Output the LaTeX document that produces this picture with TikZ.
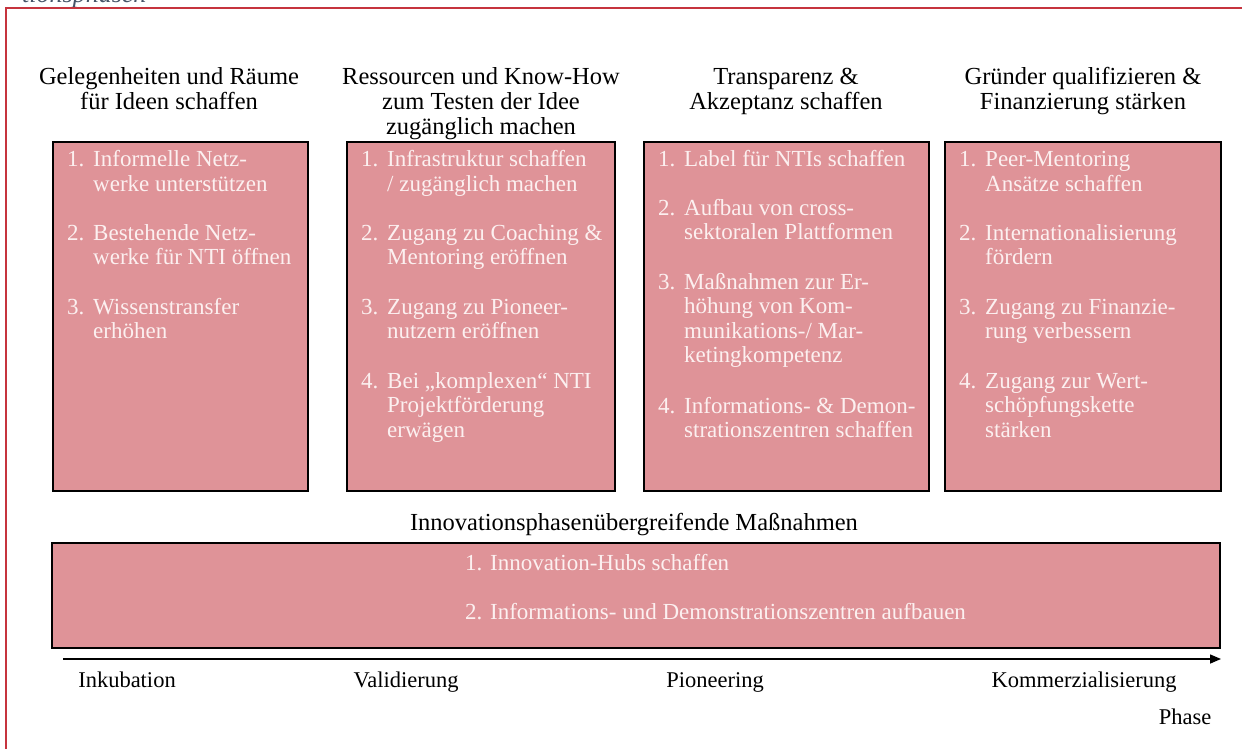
\documentclass[tikz,border=0pt]{standalone}
\usepackage{fontspec}
\setmainfont{Liberation Serif}
\usetikzlibrary{arrows.meta}
\definecolor{boxpink}{RGB}{223,147,152}
\definecolor{itemwhite}{RGB}{252,240,240}
\definecolor{framered}{RGB}{198,52,62}
\definecolor{slate}{RGB}{70,84,104}
\tikzset{
  box/.style={draw=black, line width=1.5pt, fill=boxpink, inner sep=0pt, outer sep=0pt, anchor=north west},
  itemtxt/.style={font=\fontsize{23}{24.5}\selectfont, text=itemwhite, inner sep=0pt, anchor=base west},
  headtxt/.style={font=\fontsize{24.5}{25}\selectfont, text=black, inner sep=0pt, anchor=base},
  axtxt/.style={font=\fontsize{22.5}{25}\selectfont, text=black, inner sep=0pt, anchor=base},
  axisline/.style={line width=1.5pt, -{Triangle[length=11pt,width=9pt]}},
  frameline/.style={draw=framered, line width=2.5pt},
}
\newcommand\mitem[5]{%
  \node[itemtxt] (#1n) at ({#2+14},#3) {#4.};
  \foreach \t [count=\i from 0] in {#5} \node[itemtxt] (#1l\i) at ({#2+40},{#3+24.5*\i}) {\t};
}
\begin{document}
\begin{tikzpicture}[x=1pt,y=-1pt]
\useasboundingbox (0,0) rectangle (1242,749);
\clip (0,0) rectangle (1242,749);
% cut-off caption and frame
\node[font=\itshape\fontsize{26}{26}\selectfont, text=slate, inner sep=0pt, anchor=base west] (cut) at (22,3) {tionsphasen};
\draw[frameline] (6,760) -- (6,8) -- (1260,8);
% headers
\node[headtxt] (h1a) at (169,85) {Gelegenheiten und Räume};
\node[headtxt] (h1b) at (169,110) {für Ideen schaffen};
\node[headtxt] (h2a) at (481,85) {Ressourcen und Know-How};
\node[headtxt] (h2b) at (481,110) {zum Testen der Idee};
\node[headtxt] (h2c) at (481,135) {zugänglich machen};
\node[headtxt] (h3a) at (786,85) {Transparenz \&};
\node[headtxt] (h3b) at (786,110) {Akzeptanz schaffen};
\node[headtxt] (h4a) at (1083,85) {Gründer qualifizieren \&};
\node[headtxt] (h4b) at (1083,110) {Finanzierung stärken};
% boxes
\node[box, minimum width=255pt, minimum height=349pt] (box1) at (53,142) {};
\node[box, minimum width=268pt, minimum height=349pt] (box2) at (347,142) {};
\node[box, minimum width=285pt, minimum height=349pt] (box3) at (644,142) {};
\node[box, minimum width=276pt, minimum height=349pt] (box4) at (945,142) {};
% box 1
\mitem{a1}{53}{167}{1}{{Informelle Netz-},{werke unterstützen}}
\mitem{a2}{53}{240}{2}{{Bestehende Netz-},{werke für NTI öffnen}}
\mitem{a3}{53}{314}{3}{{Wissenstransfer},{erhöhen}}
% box 2
\mitem{b1}{347}{167}{1}{{Infrastruktur schaffen},{/ zugänglich machen}}
\mitem{b2}{347}{240}{2}{{Zugang zu Coaching \&},{Mentoring eröffnen}}
\mitem{b3}{347}{314}{3}{{Zugang zu Pioneer-},{nutzern eröffnen}}
\mitem{b4}{347}{388}{4}{{Bei „komplexen“ NTI},{Projektförderung},{erwägen}}
% box 3
\mitem{c1}{644}{167}{1}{{Label für NTIs schaffen}}
\mitem{c2}{644}{215}{2}{{Aufbau von cross-},{sektoralen Plattformen}}
\mitem{c3}{644}{289}{3}{{Maßnahmen zur Er-},{höhung von Kom-},{munikations-/ Mar-},{ketingkompetenz}}
\mitem{c4}{644}{413}{4}{{Informations- \& Demon-},{strationszentren schaffen}}
% box 4
\mitem{d1}{945}{167}{1}{{Peer-Mentoring},{Ansätze schaffen}}
\mitem{d2}{945}{240}{2}{{Internationalisierung},{fördern}}
\mitem{d3}{945}{314}{3}{{Zugang zu Finanzie-},{rung verbessern}}
\mitem{d4}{945}{388}{4}{{Zugang zur Wert-},{schöpfungskette},{stärken}}
% cross-phase box
\node[headtxt] (hx) at (634,530) {Innovationsphasenübergreifende Maßnahmen};
\node[box, minimum width=1168pt, minimum height=105pt] (boxx) at (52,543) {};
\node[itemtxt] (x1) at (465,570) {1. Innovation-Hubs schaffen};
\node[itemtxt] (x2) at (465,619) {2. Informations- und Demonstrationszentren aufbauen};
% axis
\coordinate (axs) at (63,659);
\coordinate (axe) at (1221,659);
\draw[axisline] (axs) -- (axe);
\node[axtxt] (p1) at (127,687) {Inkubation};
\node[axtxt] (p2) at (406,687) {Validierung};
\node[axtxt] (p3) at (715,687) {Pioneering};
\node[axtxt] (p4) at (1084,687) {Kommerzialisierung};
\node[axtxt] (ph) at (1185,724) {Phase};
\end{tikzpicture}
\end{document}
